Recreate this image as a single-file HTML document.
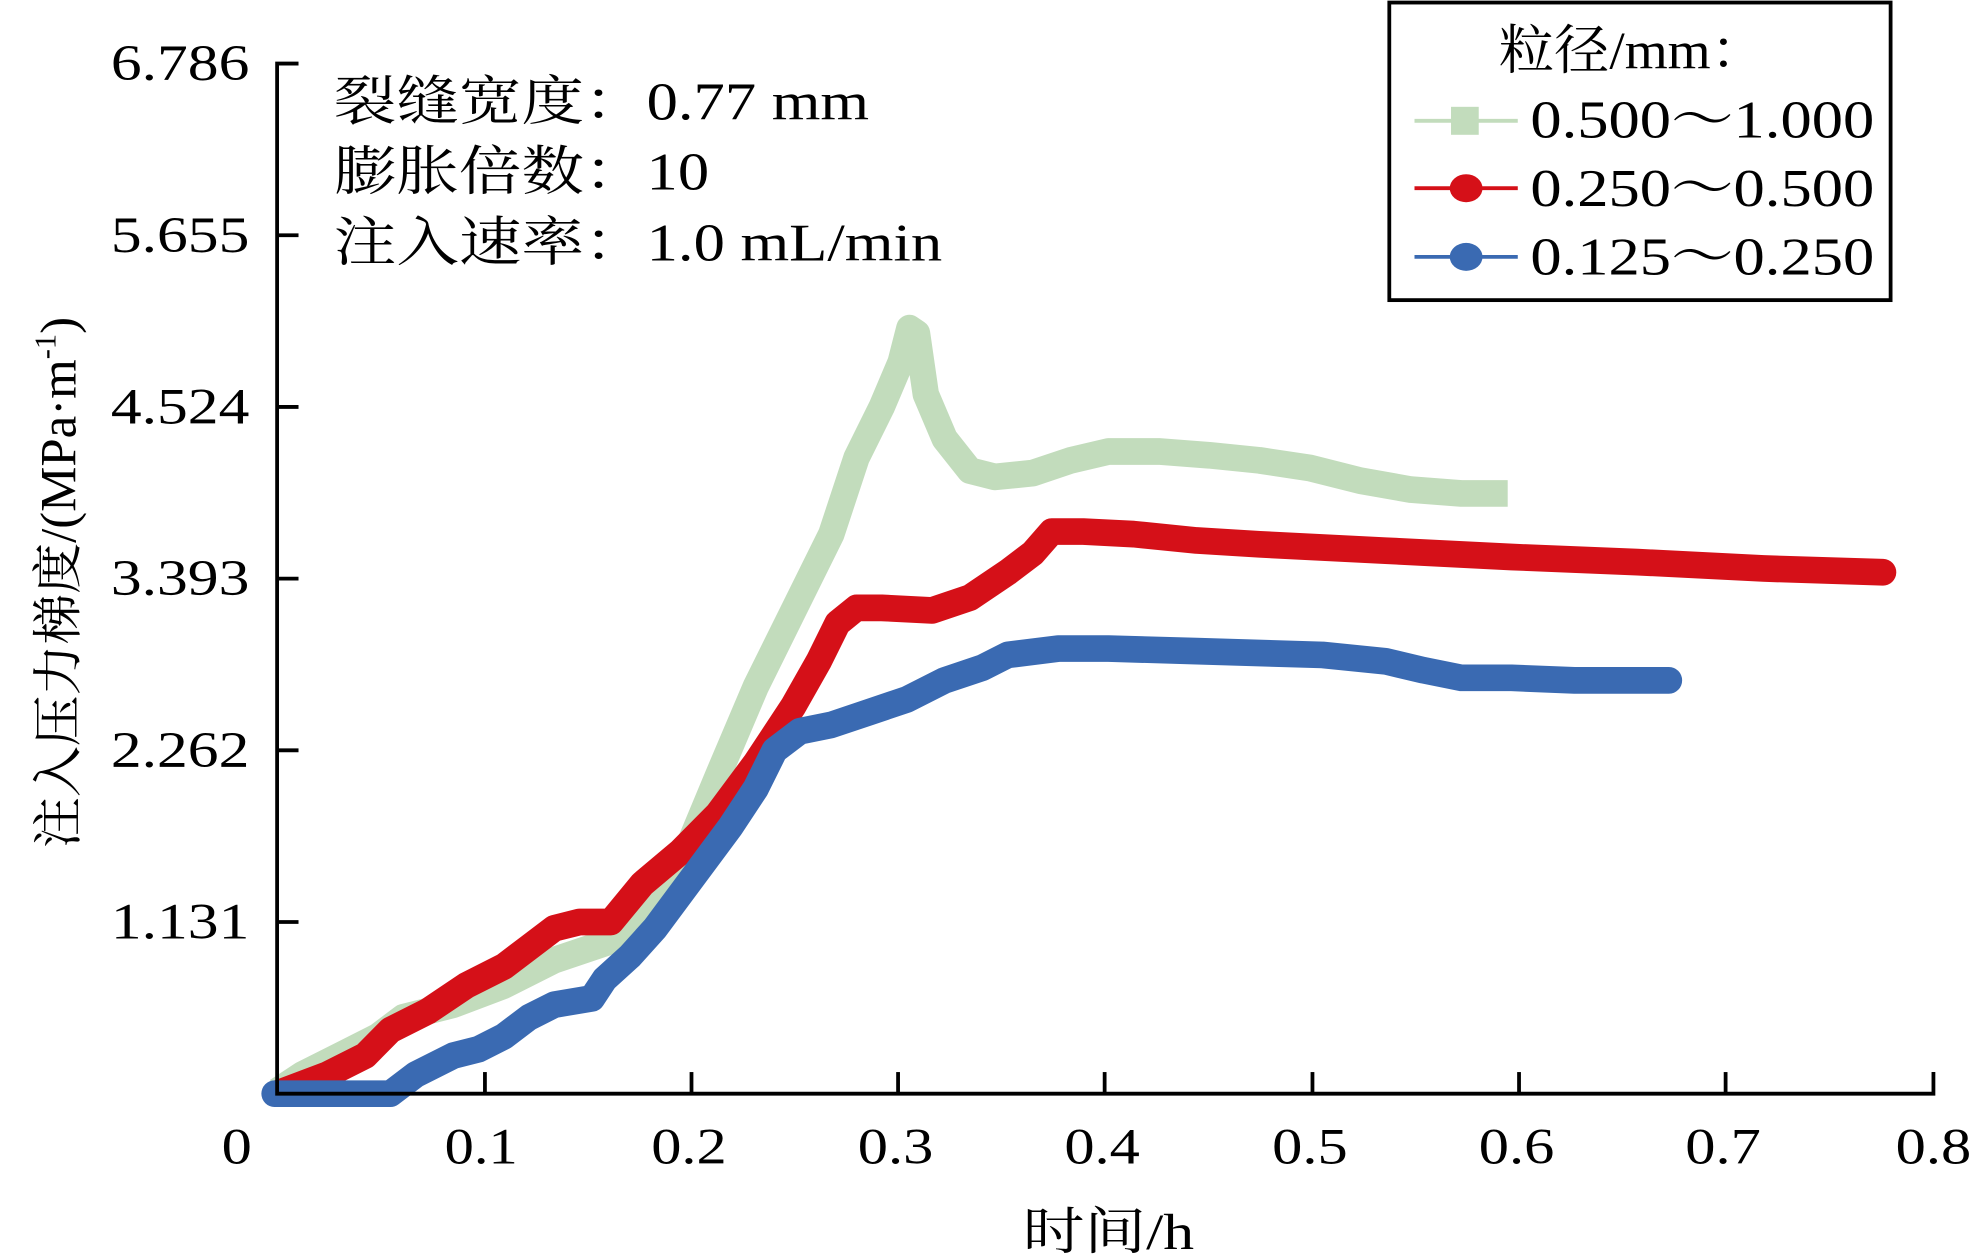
<!DOCTYPE html>
<html><head><meta charset="utf-8"><style>
html,body{margin:0;padding:0;background:#fff;}
svg{display:block;}
text{font-family:"Liberation Serif","Noto Serif CJK SC","Noto Sans CJK SC",serif;fill:#000;}
</style></head><body>
<svg width="1975" height="1259" viewBox="0 0 1568 990" preserveAspectRatio="none" xmlns="http://www.w3.org/2000/svg">
<rect width="1568" height="990" fill="#fff"/>
<polyline fill="none" stroke="#c2dcbc" stroke-width="21" stroke-linejoin="round" points="220,858 240,845 270,830 300,815 320,800 360,790 400,775 440,755 470,745 500,735 530,700 549,660 570,610 600,540 630,480 660,420 680,360 700,320 715,285 722,258 728,262 735,310 750,345 770,370 790,375 820,372 850,362 880,355 920,355 960,358 1000,362 1040,368 1080,378 1120,385 1160,388 1197,388"/>
<polyline fill="none" stroke="#d51018" stroke-width="21" stroke-linejoin="round" stroke-linecap="round" points="220,860 260,845 290,830 310,810 340,795 370,775 400,760 420,745 440,730 460,725 485,725 510,695 540,670 570,640 600,600 630,555 650,520 665,490 680,478 700,478 740,480 770,470 800,450 820,435 835,418 860,418 900,420 950,425 1000,428 1100,433 1200,438 1300,442 1400,447 1495,450"/>
<polyline fill="none" stroke="#3a6ab2" stroke-width="21" stroke-linejoin="round" stroke-linecap="round" points="218,860 310,860 330,845 360,830 380,825 400,815 420,800 440,790 470,785 480,770 500,752 520,730 550,690 580,650 600,620 615,590 635,575 660,570 690,560 720,550 750,535 780,525 800,515 840,510 880,510 950,512 1050,515 1100,520 1130,527 1160,533 1200,533 1250,535 1325,535"/>
<g stroke="#000" stroke-width="3" fill="none">
<polyline points="237,50 220,50 220,860 1535,860 1535,843"/>
<line x1="220" y1="185" x2="237" y2="185"/><line x1="220" y1="320" x2="237" y2="320"/>
<line x1="220" y1="455" x2="237" y2="455"/><line x1="220" y1="590" x2="237" y2="590"/>
<line x1="220" y1="725" x2="237" y2="725"/>
<line x1="385" y1="860" x2="385" y2="843"/><line x1="549" y1="860" x2="549" y2="843"/>
<line x1="713" y1="860" x2="713" y2="843"/><line x1="877" y1="860" x2="877" y2="843"/>
<line x1="1042" y1="860" x2="1042" y2="843"/><line x1="1206" y1="860" x2="1206" y2="843"/>
<line x1="1370" y1="860" x2="1370" y2="843"/>
</g>
<g font-size="40">
<text x="88" y="63" textLength="110" lengthAdjust="spacingAndGlyphs">6.786</text>
<text x="88" y="198" textLength="110" lengthAdjust="spacingAndGlyphs">5.655</text>
<text x="88" y="333" textLength="110" lengthAdjust="spacingAndGlyphs">4.524</text>
<text x="88" y="468" textLength="110" lengthAdjust="spacingAndGlyphs">3.393</text>
<text x="88" y="603" textLength="110" lengthAdjust="spacingAndGlyphs">2.262</text>
<text x="88" y="738" textLength="110" lengthAdjust="spacingAndGlyphs">1.131</text>
</g>
<g font-size="40">
<text x="176" y="915" textLength="24" lengthAdjust="spacingAndGlyphs">0</text>
<text x="353" y="915" textLength="58" lengthAdjust="spacingAndGlyphs">0.1</text>
<text x="517" y="915" textLength="60" lengthAdjust="spacingAndGlyphs">0.2</text>
<text x="681" y="915" textLength="60" lengthAdjust="spacingAndGlyphs">0.3</text>
<text x="845" y="915" textLength="60" lengthAdjust="spacingAndGlyphs">0.4</text>
<text x="1010" y="915" textLength="60" lengthAdjust="spacingAndGlyphs">0.5</text>
<text x="1174" y="915" textLength="60" lengthAdjust="spacingAndGlyphs">0.6</text>
<text x="1338" y="915" textLength="60" lengthAdjust="spacingAndGlyphs">0.7</text>
<text x="1505" y="915" textLength="60" lengthAdjust="spacingAndGlyphs">0.8</text>
<text x="812" y="982" textLength="136" lengthAdjust="spacingAndGlyphs">时间/h</text>
</g>
<text font-size="40" text-anchor="middle" transform="translate(60,458) rotate(-90)">注入压力梯度/(MPa·m<tspan font-size="24" dy="-16">-1</tspan><tspan dy="16">)</tspan></text>
<g font-size="42">
<text x="265" y="94" textLength="425" lengthAdjust="spacingAndGlyphs">裂缝宽度：0.77 mm</text>
<text x="265" y="149" textLength="298" lengthAdjust="spacingAndGlyphs">膨胀倍数：10</text>
<text x="265" y="205" textLength="483" lengthAdjust="spacingAndGlyphs">注入速率：1.0 mL/min</text>
</g>
<rect x="1103" y="2" width="398" height="234" fill="#fff" stroke="#000" stroke-width="3"/>
<g font-size="42">
<text x="1190" y="54" textLength="212" lengthAdjust="spacingAndGlyphs">粒径/mm：</text>
<text x="1215" y="108" textLength="273" lengthAdjust="spacingAndGlyphs">0.500～1.000</text>
<text x="1215" y="162" textLength="273" lengthAdjust="spacingAndGlyphs">0.250～0.500</text>
<text x="1215" y="216" textLength="273" lengthAdjust="spacingAndGlyphs">0.125～0.250</text>
</g>
<line x1="1123" y1="95" x2="1205" y2="95" stroke="#c2dcbc" stroke-width="3"/>
<rect x="1152" y="84" width="22" height="22" fill="#c2dcbc"/>
<line x1="1123" y1="148" x2="1205" y2="148" stroke="#d51018" stroke-width="3"/>
<ellipse cx="1164" cy="148" rx="13" ry="11" fill="#d51018"/>
<line x1="1123" y1="202" x2="1205" y2="202" stroke="#3a6ab2" stroke-width="3"/>
<ellipse cx="1164" cy="202" rx="13" ry="11" fill="#3a6ab2"/>
</svg>
</body></html>
